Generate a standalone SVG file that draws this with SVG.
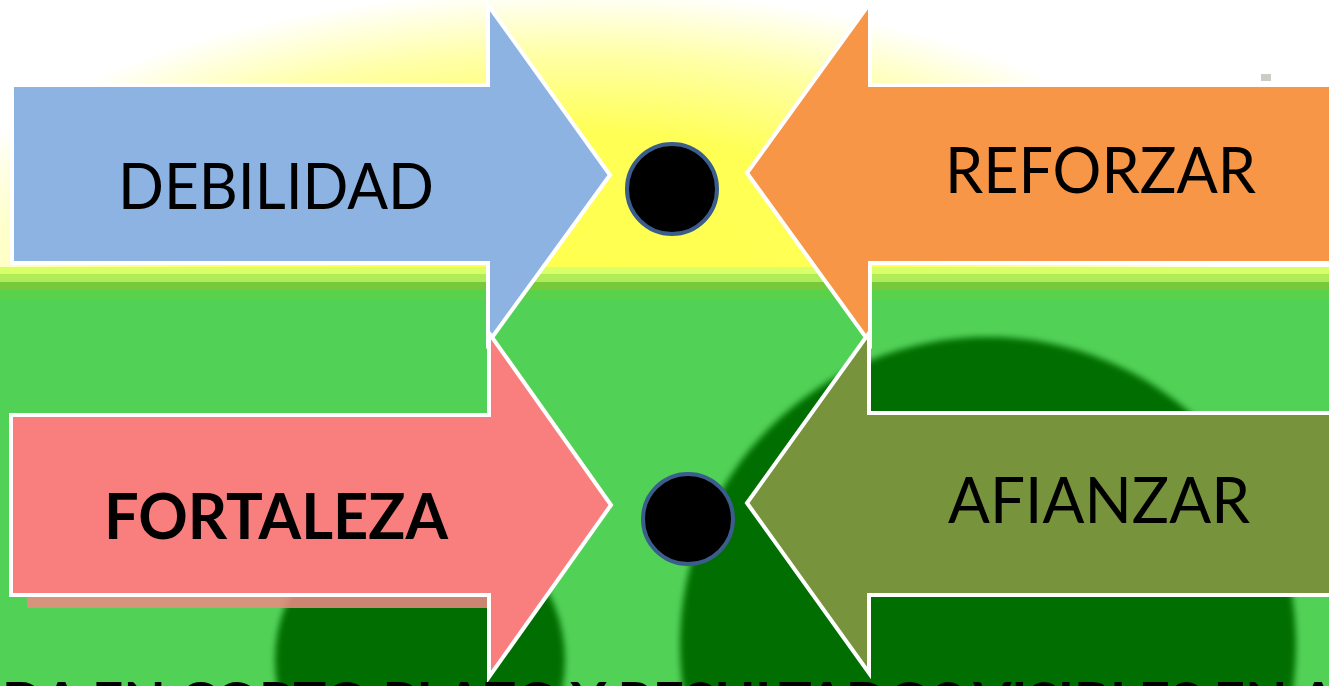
<svg xmlns="http://www.w3.org/2000/svg" width="1329" height="686" viewBox="0 0 1329 686">
<defs>
<radialGradient id="sun" gradientUnits="userSpaceOnUse" cx="0" cy="0" r="1" gradientTransform="translate(570 275) scale(660 285)">
<stop offset="0" stop-color="#FFFF50"/>
<stop offset="0.5" stop-color="#FFFF55"/>
<stop offset="0.78" stop-color="#FFFFA8"/>
<stop offset="1" stop-color="#FFFFFF"/>
</radialGradient>
<filter id="soft" x="-10%" y="-10%" width="120%" height="120%"><feGaussianBlur stdDeviation="3"/></filter>
<style>
.arrow{stroke:#FFFFFF;stroke-width:4;stroke-linejoin:miter}
.lbl{font-family:Lato,"Open Sans","Liberation Sans",sans-serif;font-size:64px;fill:#000000}
.bold{font-weight:bold}
.dot{fill:#000000;stroke:#3B5D8C;stroke-width:4}
</style>
</defs>
<g id="background">
<rect x="0" y="0" width="1329" height="686" fill="#FFFFFF"/>
<rect x="0" y="0" width="1329" height="270" fill="url(#sun)"/>
<rect x="1261" y="74" width="10" height="7" fill="#CCCCC4"/>
<rect x="0" y="267" width="1329" height="8" fill="#D8FE68"/>
<rect x="0" y="274" width="1329" height="9" fill="#B0EC58"/>
<rect x="0" y="282" width="1329" height="9" fill="#75C93B"/>
<rect x="0" y="290" width="1329" height="11" fill="#5AD14A"/>
<rect x="0" y="300" width="1329" height="386" fill="#52D157"/>
<circle cx="988" cy="645" r="308" fill="#006E00" filter="url(#soft)"/>
<circle cx="420" cy="660" r="145" fill="#006E00" filter="url(#soft)"/>
</g>
<g id="connectors"/>
<g id="debilidad">
<polygon class="arrow" fill="#8DB3E2" points="12,85 488,85 488,5 610,175 488,343 488,263 12,263"/>
<text class="lbl" x="118" y="209" textLength="316" lengthAdjust="spacingAndGlyphs">DEBILIDAD</text>
</g>
<g id="reforzar">
<polygon class="arrow" fill="#F79646" points="1340,85 870,85 870,3 747,173 870,343 870,263 1340,263"/>
<text class="lbl" x="945" y="193" textLength="311" lengthAdjust="spacingAndGlyphs">REFORZAR</text>
</g>
<g id="fortaleza">
<rect x="27" y="595" width="460" height="13" fill="#EE8A84" opacity="0.85"/>
<polygon class="arrow" fill="#F97F7F" points="11,415 489,415 489,333 611,505 489,677 489,595 11,595"/>
<text class="lbl bold" x="104" y="539" textLength="344" lengthAdjust="spacingAndGlyphs">FORTALEZA</text>
</g>
<g id="afianzar">
<polygon class="arrow" fill="#77933C" points="1340,413 869,413 869,333 747,503 869,673 869,595 1340,595"/>
<text class="lbl" x="948" y="523" textLength="302" lengthAdjust="spacingAndGlyphs">AFIANZAR</text>
</g>
<g id="dot-top">
<circle class="dot" cx="672" cy="189" r="45"/>
</g>
<g id="dot-bottom">
<circle class="dot" cx="688" cy="519" r="45"/>
</g>
<g id="caption">
<text class="lbl bold" style="font-size:52px" x="2" y="719" textLength="1335" lengthAdjust="spacingAndGlyphs">DA EN CORTO PLAZO Y RESULTADOS VISIBLES EN A</text>
</g>
</svg>
